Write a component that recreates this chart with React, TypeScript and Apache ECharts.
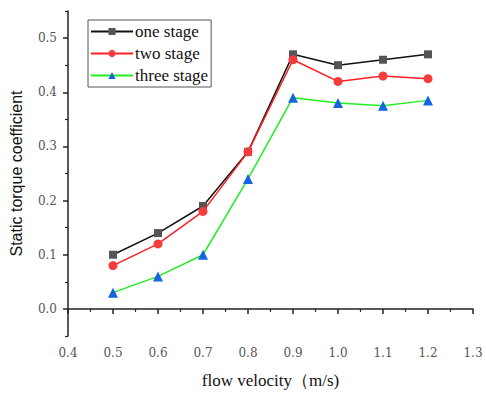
import React, { useEffect, useRef } from "react";
import * as echarts from "echarts";

const velocity = [0.5, 0.6, 0.7, 0.8, 0.9, 1.0, 1.1, 1.2];
const oneStage = [0.1, 0.14, 0.19, 0.29, 0.47, 0.45, 0.46, 0.47];
const twoStage = [0.08, 0.12, 0.18, 0.29, 0.46, 0.42, 0.43, 0.425];
const threeStage = [0.03, 0.06, 0.1, 0.24, 0.39, 0.38, 0.375, 0.385];
const yMajor = [0, 0.1, 0.2, 0.3, 0.4, 0.5];
const yMinor = [-0.05, 0.05, 0.15, 0.25, 0.35, 0.45, 0.55];

const SERIF = "'Liberation Serif', 'DejaVu Serif', serif";
const TICKFONT = "'DejaVu Serif', serif";
const SANS = "'Liberation Sans', Arial, sans-serif";

export default function App() {
  const ref = useRef<HTMLDivElement>(null);
  useEffect(() => {
    const chart = echarts.init(ref.current!, null, { renderer: "svg" });
    const pts = (ys: number[]) => velocity.map((x, i) => [x, ys[i]]);
    chart.setOption({
      animation: false,
      backgroundColor: "#fff",
      grid: { left: 68, right: 13, top: 11, bottom: 57 },
      legend: {
        orient: "vertical",
        left: 88,
        top: 20,
        itemWidth: 42,
        itemHeight: 9,
        itemGap: 5,
        padding: [3, 3, 3, 2],
        borderColor: "#555",
        borderWidth: 1,
        textStyle: { fontFamily: SERIF, fontSize: 17, color: "#111", padding: [0, 0, 0, -3] },
        data: ["one stage", "two stage", "three stage"],
      },
      xAxis: {
        type: "value",
        min: 0.4,
        max: 1.3,
        interval: 0.1,
        name: "flow velocity（m/s)",
        nameLocation: "middle",
        nameGap: 36,
        nameTextStyle: { fontFamily: SERIF, fontSize: 17, color: "#111" },
        axisLine: { lineStyle: { color: "#222", width: 1.5 } },
        axisTick: { inside: false, length: 5, lineStyle: { color: "#222", width: 1.5 } },
        minorTick: { show: true, splitNumber: 2, length: 3, lineStyle: { color: "#222", width: 1.2 } },
        splitLine: { show: false },
        axisLabel: {
          fontFamily: TICKFONT,
          fontSize: 12,
          color: "#555",
          margin: 11,
          formatter: (v: number) => v.toFixed(1),
        },
      },
      yAxis: [
        {
          type: "value",
          min: -0.05,
          max: 0.55,
          name: "Static torque coefficient",
          nameLocation: "middle",
          nameGap: 44,
          nameTextStyle: { fontFamily: SANS, fontSize: 16, color: "#111" },
          axisLine: { show: true, lineStyle: { color: "#222", width: 1.5 } },
          axisTick: { show: true, length: 5, customValues: yMajor, lineStyle: { color: "#222", width: 1.5 } },
          splitLine: { show: false },
          axisLabel: {
            fontFamily: TICKFONT,
            fontSize: 12,
            color: "#555",
            margin: 11,
            customValues: yMajor,
            formatter: (v: number) => v.toFixed(1),
          },
        },
        {
          type: "value",
          position: "left",
          min: -0.05,
          max: 0.55,
          axisLine: { show: false },
          axisTick: { show: true, length: 3, customValues: yMinor, lineStyle: { color: "#222", width: 1.2 } },
          axisLabel: { show: false },
          splitLine: { show: false },
        },
      ],
      series: [
        {
          name: "one stage",
          type: "line",
          data: pts(oneStage),
          symbol: "rect",
          symbolSize: 8,
          lineStyle: { color: "#111", width: 1.5 },
          itemStyle: { color: "#555" },
          z: 3,
        },
        {
          name: "two stage",
          type: "line",
          data: pts(twoStage),
          symbol: "circle",
          symbolSize: 9,
          lineStyle: { color: "#ff2020", width: 1.5 },
          itemStyle: { color: "#f53b3b" },
          z: 4,
        },
        {
          name: "three stage",
          type: "line",
          data: pts(threeStage),
          symbol: "triangle",
          symbolSize: 10,
          lineStyle: { color: "#22ee22", width: 1.5 },
          itemStyle: { color: "#1565e0" },
          z: 5,
        },
      ],
    });
    return () => chart.dispose();
  }, []);
  return <div ref={ref} style={{ width: 486, height: 394, position: "absolute", left: 0, top: 0 }} />;
}
